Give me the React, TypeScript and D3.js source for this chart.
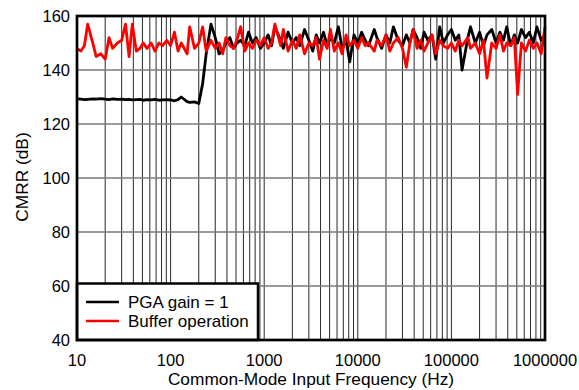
import React from "react";
import * as d3 from "d3";

// Frequency points (Hz)
const freqHz = [
  10, 11, 12, 13, 15, 16, 18, 20, 22, 24, 27, 30, 33, 36, 39, 43, 47, 51, 56, 62, 68, 75, 82, 91,
  100, 110, 120, 130, 150, 160, 180, 200, 220, 240, 270, 300, 330, 360, 390, 430, 470, 510, 560, 620, 680, 750, 820, 910,
  1000, 1100, 1200, 1300, 1500, 1600, 1800, 2000, 2200, 2400, 2700, 3000, 3300, 3600, 3900, 4300, 4700, 5100, 5600, 6200, 6800, 7500, 8200, 9100,
  10000, 11000, 12000, 13000, 15000, 16000, 18000, 20000, 22000, 24000, 27000, 30000, 33000, 36000, 39000, 43000, 47000, 51000, 56000, 62000, 68000, 75000, 82000, 91000,
  100000, 110000, 120000, 130000, 150000, 160000, 180000, 200000, 220000, 240000, 270000, 300000, 330000, 360000, 390000, 430000, 470000, 510000, 560000, 620000, 680000, 750000, 820000, 910000,
  1000000,
];

// CMRR (dB), PGA gain = 1
const pgaDb = [
  129.3, 129.2, 129.0, 129.1, 129.3, 129.2, 129.4, 129.2, 129.0, 129.3, 129.1, 129.2, 129.0, 129.1, 128.9, 129.0, 129.1, 128.8, 129.0, 128.9, 129.1, 128.8, 128.9, 129.0,
  128.9, 128.6, 129.0, 130.0, 128.3, 128.0, 128.2, 127.6, 135, 146, 157, 152, 146, 147, 150, 152, 148, 150, 151, 149, 154, 150, 152, 148,
  150, 153, 149, 156, 151, 148, 154, 150, 152, 149, 155, 151, 147, 153, 150, 154, 149, 152, 150, 156, 148, 151, 143, 153,
  150, 154, 151, 149, 155, 152, 148, 153, 150, 156, 151, 149, 153, 150, 155, 152, 148, 154, 151, 153, 144, 156, 150, 153,
  155, 151, 153, 140, 152, 156, 150, 154, 149, 153, 155, 150, 154, 151, 156, 149, 153, 150, 155, 152, 154, 150, 156, 151,
  153,
];

// CMRR (dB), buffer operation
const bufferDb = [
  148, 147, 149, 157, 149, 145, 146, 144, 152, 148, 150, 151, 157, 145, 157, 147, 148, 150, 148, 150, 147, 150, 149, 151,
  149, 154, 147, 150, 146, 156, 148, 150, 156, 147, 151, 148, 150, 146, 152, 149, 148, 151, 156, 147, 150, 148, 151, 149,
  152, 148, 150, 157, 149, 155, 147, 151, 148, 153, 146, 150, 149, 152, 144, 151, 148, 155, 147, 150, 146, 153, 149, 151,
  148, 152, 149, 150, 147, 151, 149, 153, 147, 150, 152, 148, 141, 150, 155, 148, 151, 147, 150, 153, 146, 151, 149, 148,
  150, 147, 151, 149, 152, 148, 150, 146, 151, 137, 150, 148, 153, 147, 150, 149, 152, 131, 150, 147, 151, 148, 150, 146,
  156,
];

const xTicks = [10, 100, 1000, 10000, 100000, 1000000];
const yTicks = [40, 60, 80, 100, 120, 140, 160];
const seriesNames = ["PGA gain = 1", "Buffer operation"];
const seriesColors = ["#000000", "#ff0000"];

const W = 579;
const H = 390;
const L = 77;
const R = 545;
const T = 16;
const B = 340;
const FONT = "Arial, 'Liberation Sans', sans-serif";

export default function App() {
  const x = d3.scaleLog().domain([10, 1000000]).range([L, R]);
  const y = d3.scaleLinear().domain([40, 160]).range([B, T]);

  const minorX: number[] = [];
  for (let d = 10; d < 1000000; d *= 10) {
    for (let m = 1; m <= 9; m++) minorX.push(d * m);
  }

  const line = d3
    .line<number>()
    .x((_, i) => x(freqHz[i]))
    .y((v) => y(v));

  const series = [pgaDb, bufferDb];

  return (
    <svg
      width={W}
      height={H}
      style={{ position: "fixed", left: 0, top: 0, background: "#fff" }}
      fontFamily={FONT}
    >
      <rect x={0} y={0} width={W} height={H} fill="#fff" />
      {minorX.map((f, i) => (
        <line key={"vx" + i} x1={x(f)} x2={x(f)} y1={T} y2={B} stroke="#2a2a2a" strokeWidth={1} />
      ))}
      {yTicks.map((t) => (
        <line key={"hy" + t} x1={L} x2={R} y1={y(t)} y2={y(t)} stroke="#7a7a7a" strokeWidth={1.3} />
      ))}
      {series.map((s, k) => (
        <path
          key={"s" + k}
          d={line(s) || ""}
          fill="none"
          stroke={seriesColors[k]}
          strokeWidth={2.8}
          strokeLinejoin="round"
        />
      ))}
      {/* Legend */}
      <rect x={L} y={283.5} width={181} height={B - 283.5} fill="#fff" stroke="#000" strokeWidth={2.5} />
      {seriesNames.map((n, i) => (
        <g key={"lg" + i}>
          <line x1={86} x2={119} y1={302 + i * 19} y2={302 + i * 19} stroke={seriesColors[i]} strokeWidth={2.4} />
          <text x={128} y={308 + i * 18.5} fontSize={17} fill="#000">
            {n}
          </text>
        </g>
      ))}
      <rect x={L} y={T} width={R - L} height={B - T} fill="none" stroke="#000" strokeWidth={2.7} />
      {yTicks.map((t) => (
        <text key={"yl" + t} x={70} y={y(t) + 6} textAnchor="end" fontSize={16.5} fill="#000">
          {t}
        </text>
      ))}
      {xTicks.map((t) => (
        <text key={"xl" + t} x={x(t)} y={366} textAnchor="middle" fontSize={16.5} fill="#000">
          {t}
        </text>
      ))}
      <text x={311} y={385} textAnchor="middle" fontSize={17.3} fill="#000">
        Common-Mode Input Frequency (Hz)
      </text>
      <text
        transform={`translate(28,177) rotate(-90)`}
        textAnchor="middle"
        fontSize={17.3}
        fill="#000"
      >
        CMRR (dB)
      </text>
    </svg>
  );
}
